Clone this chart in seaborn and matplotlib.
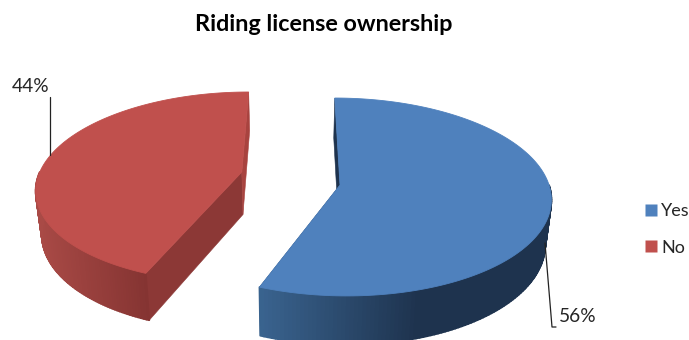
import numpy as np
import matplotlib
matplotlib.use("Agg")
import matplotlib.pyplot as plt
from matplotlib.collections import PolyCollection
from matplotlib.colors import to_rgb
from matplotlib.lines import Line2D
import seaborn as sns

# Survey shares
categories = ["Yes", "No"]
shares = [56, 44]
chart_title = "Riding license ownership"

sns.set_theme(style="white")
plt.rcParams["font.family"] = ["Lato", "DejaVu Sans"]
face_colors = sns.color_palette(["#4F81BD", "#C0504D"])

# Per-slice look of the tilted disc
radius = [209, 202]
gain = [97.5, 92.8]
persp = [0.121, 0.16]
depth = [44, 42.5]
wall_near = ["#3A6490", "#A94A46"]
wall_far = ["#1E334E", "#853432"]
ramp_x = [(259, 420), (36, 147)]
cut_front = ["#1E334E", "#8C3836"]
cut_back = ["#1E334E", "#A8433F"]
explode_x = [49.4, 50.6]

CENTER_X, CENTER_Y = 291.5, 178.5
EXPLODE_Y = 34.7
BASE_SHRINK = 0.976

fig, ax = plt.subplots(figsize=(6.89, 3.40), dpi=100)
fig.subplots_adjust(0, 0, 1, 1)
ax.set_xlim(0, 689)
ax.set_ylim(340, 0)
ax.axis("off")

fractions = np.asarray(shares) / np.sum(shares)
edges = np.concatenate([[0.0], np.cumsum(fractions)]) * 2 * np.pi


def project(i, theta, r, bottom, ex, ay):
    """Map polar disc positions of slice i to the page, on the top or base plane."""
    du, dv = r * np.sin(theta), r * np.cos(theta)
    w = 1 + persp[i] * dv
    x = CENTER_X + (ex + radius[i] * du) / w
    y = ay - gain[i] * dv / w
    if bottom:
        x = CENTER_X + (x - CENTER_X) * BASE_SHRINK
        y = y + depth[i] / (1 + 0.1 * dv)
    return x, y


for i, share in enumerate(shares):
    start, stop = edges[i], edges[i + 1]
    mid = (start + stop) / 2
    ex = explode_x[i] * np.sin(mid)
    ay = CENTER_Y - EXPLODE_Y * np.cos(mid)
    theta = np.linspace(start, stop, 200)

    # flat walls along the two cut edges
    for ang, col in ((start, cut_back[i] if i == 0 else cut_front[i]),
                     (stop, cut_back[i])):
        xt, yt = project(i, np.array([0.0, ang]), np.array([0.0, 1.0]), False, ex, ay)
        xb, yb = project(i, np.array([0.0, ang]), np.array([0.0, 1.0]), True, ex, ay)
        ax.fill([xt[0], xt[1], xb[1], xb[0]], [yt[0], yt[1], yb[1], yb[0]],
                color=col, lw=0.4, zorder=2)

    # rim, shaded along the page from the light end to the dark end;
    # only the part facing the viewer is drawn
    xt, yt = project(i, theta, 1.0, False, ex, ay)
    xb, yb = project(i, theta, 1.0, True, ex, ay)
    facing = [j for j in range(len(theta) - 1) if np.cos(theta[j]) < 0.0]
    quads = [[(xt[j], yt[j]), (xt[j + 1], yt[j + 1]), (xb[j + 1], yb[j + 1]), (xb[j], yb[j])]
             for j in facing]
    t = np.clip((xt[facing] - ramp_x[i][0]) / (ramp_x[i][1] - ramp_x[i][0]), 0, 1)
    near, far = np.array(to_rgb(wall_near[i])), np.array(to_rgb(wall_far[i]))
    shades = near + t[:, None] * (far - near)
    ax.add_collection(PolyCollection(quads, facecolors=shades, edgecolors=shades,
                                     linewidths=1.3, capstyle="butt", zorder=3))

    # top face
    apex_x, apex_y = project(i, np.array([0.0]), 0.0, False, ex, ay)
    ax.fill(np.r_[apex_x, xt], np.r_[apex_y, yt], color=face_colors[i], lw=0.6, zorder=4)

ax.text(324, 24.5, chart_title, ha="center", va="center", fontsize=16.8,
        fontweight="bold", color="black")

# Value labels with their leader lines
label_color = "#262626"
ax.plot([50, 50], [97, 155], color="#222222", lw=0.9, zorder=5)
ax.text(30.5, 87, f"{shares[1]}%", ha="center", va="center", fontsize=13.8, color=label_color)
ax.plot([545, 552, 556], [243, 327, 327], color="#222222", lw=0.9, zorder=5)
ax.text(559, 317, f"{shares[0]}%", ha="left", va="center", fontsize=13.8, color=label_color)

handles = [Line2D([], [], marker="s", linestyle="none", markersize=8.6,
                  markerfacecolor=face_colors[i], markeredgecolor="none")
           for i in range(len(categories))]
ax.legend(handles, categories, loc="center left", bbox_to_anchor=(641.5, 229.5),
          bbox_transform=ax.transData, frameon=False, fontsize=13, labelspacing=1.12,
          handletextpad=0.1, handlelength=1.0, borderaxespad=0, borderpad=0,
          labelcolor=label_color)

fig.savefig("out.png", dpi=100)
